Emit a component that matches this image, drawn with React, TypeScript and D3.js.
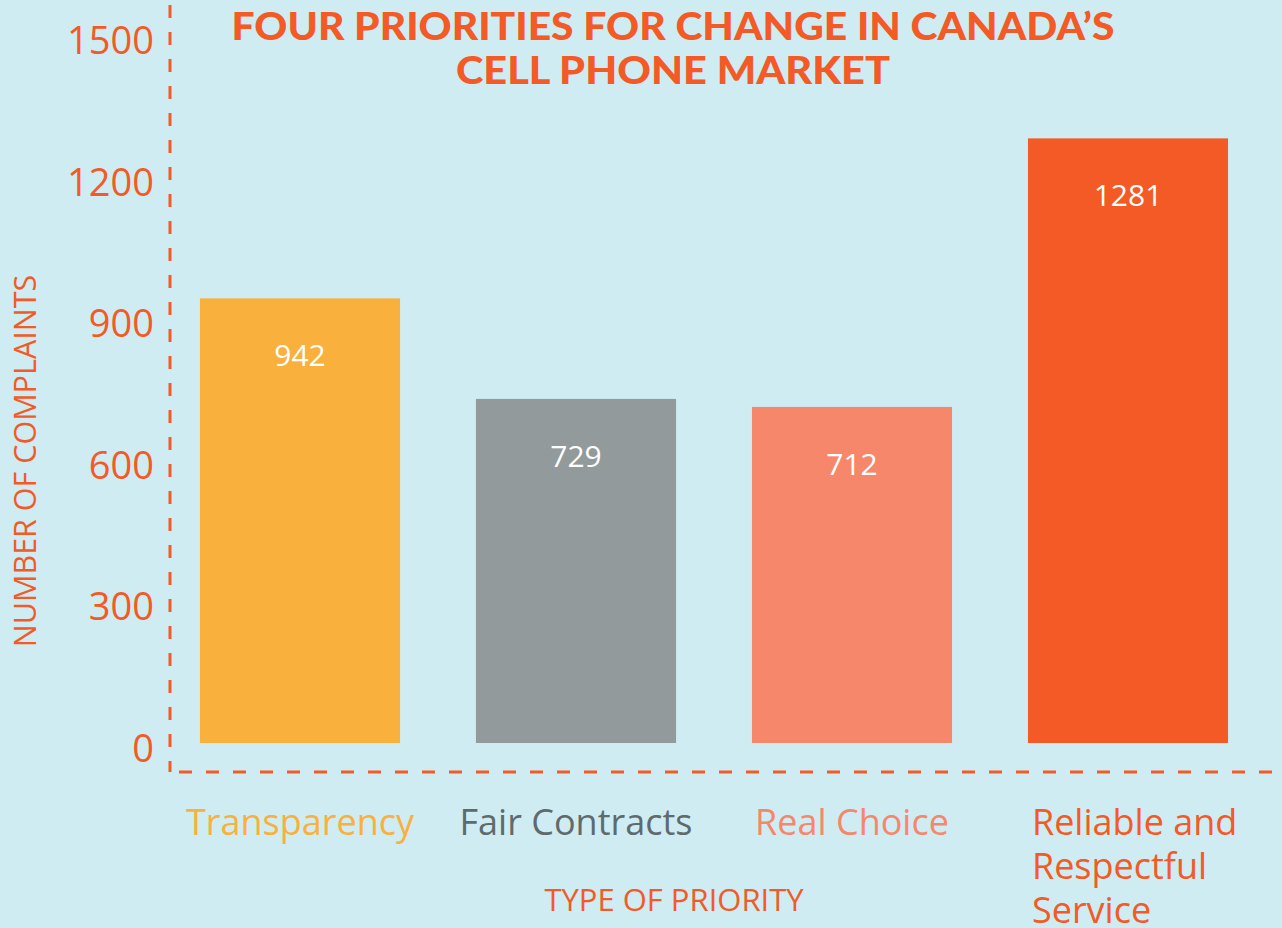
import { useEffect, useRef } from 'react';
import * as d3 from 'd3';

// Complaints per priority
const categories = ['Transparency', 'Fair Contracts', 'Real Choice', 'Reliable and Respectful Service'];
const labelLines = [['Transparency'], ['Fair Contracts'], ['Real Choice'], ['Reliable and', 'Respectful', 'Service']];
const values = [942, 729, 712, 1281];
const barColors = ['#F9B03C', '#939A9C', '#F7876B', '#F35A26'];
const labelColors = ['#F9B03C', '#5F6A6D', '#F7876B', '#F35A26'];
const yTicks = [0, 300, 600, 900, 1200, 1500];
const titleLines = ['FOUR PRIORITIES FOR CHANGE IN CANADA\u2019S', 'CELL PHONE MARKET'];

const W = 1282;
const H = 928;
const ORANGE = '#F35A26';
const FONT = "'Open Sans', 'Noto Sans', sans-serif";

const App = () => {
    const svgRef = useRef<SVGSVGElement | null>(null);

    useEffect(() => {
        const svg = d3.select(svgRef.current);
        svg.selectAll('*').remove();

        svg.append('rect').attr('width', W).attr('height', H).attr('fill', '#CFECF3');

        const y = d3.scaleLinear().domain([0, 1500]).range([743, 35]);
        const x = d3.scaleBand<string>()
            .domain(categories)
            .range([162, 1266])
            .paddingInner(0.275)
            .paddingOuter(0.1375);

        // bars
        svg.append('g')
            .selectAll('rect')
            .data(values)
            .join('rect')
            .attr('x', (_, i) => x(categories[i])!)
            .attr('y', d => y(d))
            .attr('width', x.bandwidth())
            .attr('height', d => y(0) - y(d))
            .attr('fill', (_, i) => barColors[i]);

        // value labels
        svg.append('g')
            .selectAll('text')
            .data(values)
            .join('text')
            .attr('x', (_, i) => x(categories[i])! + x.bandwidth() / 2)
            .attr('y', d => y(d) + 68)
            .attr('text-anchor', 'middle')
            .attr('fill', '#fff')
            .style('font-family', FONT)
            .style('font-size', '30px')
            .text(d => d);

        // dashed axes
        svg.append('line')
            .attr('x1', 170).attr('x2', 170)
            .attr('y1', 5).attr('y2', 772)
            .attr('stroke', ORANGE).attr('stroke-width', 3)
            .attr('stroke-dasharray', '13 14');
        svg.append('line')
            .attr('x1', 179).attr('x2', 1275)
            .attr('y1', 772).attr('y2', 772)
            .attr('stroke', ORANGE).attr('stroke-width', 3)
            .attr('stroke-dasharray', '13 14');

        // y tick labels
        svg.append('g')
            .selectAll('text')
            .data(yTicks)
            .join('text')
            .attr('x', 154)
            .attr('y', d => y(d) + 19)
            .attr('text-anchor', 'end')
            .attr('fill', ORANGE)
            .style('font-family', FONT)
            .style('font-size', '38px')
            .text(d => d);

        // category labels
        labelLines.forEach((lines, i) => {
            const multi = lines.length > 1;
            const bx = x(categories[i])!;
            const t = svg.append('text')
                .attr('x', multi ? bx + 4 : bx + x.bandwidth() / 2)
                .attr('y', 835)
                .attr('text-anchor', multi ? 'start' : 'middle')
                .attr('fill', labelColors[i])
                .style('font-family', FONT)
                .style('font-size', '36px');
            lines.forEach((ln, j) => {
                t.append('tspan')
                    .attr('x', multi ? bx + 4 : bx + x.bandwidth() / 2)
                    .attr('dy', j === 0 ? 0 : 44)
                    .text(ln);
            });
        });

        // axis titles
        svg.append('text')
            .attr('x', 674).attr('y', 911)
            .attr('text-anchor', 'middle')
            .attr('fill', ORANGE)
            .style('font-family', FONT)
            .style('font-size', '31px')
            .text('TYPE OF PRIORITY');

        svg.append('text')
            .attr('transform', 'translate(36,461) rotate(-90)')
            .attr('text-anchor', 'middle')
            .attr('fill', ORANGE)
            .style('font-family', FONT)
            .style('font-size', '30.5px')
            .text('NUMBER OF COMPLAINTS');

        // title
        const titleW = [883, 434];
        titleLines.forEach((ln, i) => {
            svg.append('text')
                .attr('x', 673)
                .attr('y', 40 + i * 44)
                .attr('text-anchor', 'middle')
                .attr('fill', ORANGE)
                .attr('textLength', titleW[i])
                .attr('lengthAdjust', 'spacingAndGlyphs')
                .style('font-family', "'Lato', sans-serif")
                .style('font-weight', '900')
                .style('font-size', '37px')
                .text(ln);
        });
    }, []);

    return (
        <div style={{ position: 'fixed', left: 0, top: 0, width: W, height: H, overflow: 'hidden' }}>
            <svg ref={svgRef} width={W} height={H} style={{ display: 'block' }} />
        </div>
    );
};

export default App;
